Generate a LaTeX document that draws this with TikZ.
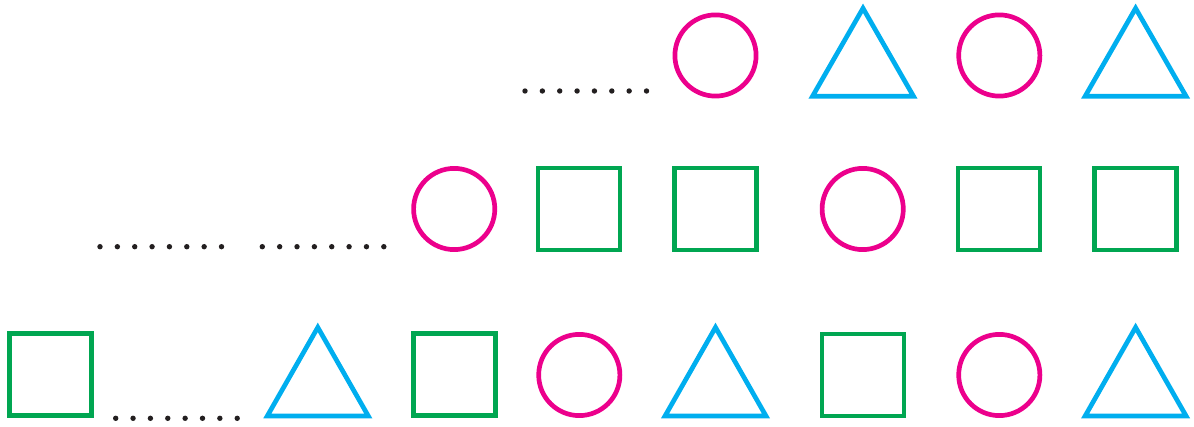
\documentclass[tikz,border=0pt]{standalone}
\definecolor{cmag}{HTML}{EC008C}
\definecolor{ccyan}{HTML}{00AEEF}
\definecolor{cgreen}{HTML}{00A651}
\definecolor{cdot}{HTML}{231F20}
\tikzset{
  circshape/.style={draw=cmag, line width=4.7pt},
  sqshape/.style={draw=cgreen, line width=4.7pt},
  trishape/.style={draw=ccyan, line width=4.7pt, line join=miter},
  dotfill/.style={fill=cdot, draw=none},
}
\newcommand{\mycirc}[2]{\draw[circshape] (#1,#2) circle (40.6);}
\newcommand{\mysq}[2]{\draw[sqshape] (#1-41,#2-41) rectangle (#1+41,#2+41);}
\newcommand{\mytriA}[1]{\draw[trishape] (#1,8.3) -- (#1+50.5,96.3) -- (#1-50.5,96.3) -- cycle;}
\newcommand{\mytriB}[1]{\draw[trishape] (#1,327.4) -- (#1+50.5,416) -- (#1-50.5,416) -- cycle;}
\newcommand{\mydots}[2]{\foreach \k in {0,...,7} {\fill[dotfill] (#1+\k*17.36,#2) circle (2.7);}}
\begin{document}
\begin{tikzpicture}[x=1pt,y=-1pt]
\useasboundingbox (0,0) rectangle (1194,427);
% row 1
\mydots{525}{91}
\mycirc{715.5}{55.5}
\mytriA{863}
\mycirc{999.3}{55.5}
\mytriA{1135.6}
% row 2
\mydots{100}{246.7}
\mydots{262.3}{246.7}
\mycirc{454.2}{209}
\mysq{579}{209}
\mysq{715.5}{209}
\mycirc{862.7}{209}
\mysq{999}{209}
\mysq{1135.7}{209}
% row 3
\mysq{50.7}{374.3}
\mydots{115.7}{418.3}
\mytriB{317.8}
\mysq{454.2}{374.5}
\mycirc{579.3}{375}
\mytriB{715.5}
\mysq{863}{375}
\mycirc{999.3}{375}
\mytriB{1135.6}
\end{tikzpicture}
\end{document}
